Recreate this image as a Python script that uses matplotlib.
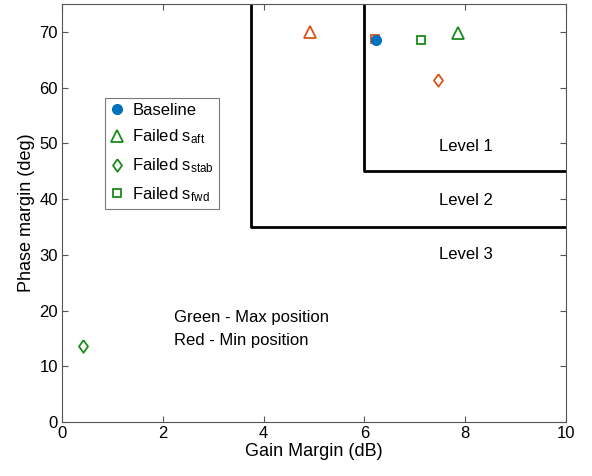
import matplotlib.pyplot as plt
from matplotlib.lines import Line2D

plt.rcParams.update({
    "font.family": ["Liberation Sans", "DejaVu Sans"],
    "font.size": 12,
    "mathtext.fontset": "custom",
    "mathtext.rm": "Liberation Sans",
    "mathtext.it": "Liberation Sans",
})

BLUE = "#0072BD"
RED = "#D95319"
GREEN = "#1A8C1A"

# stability margins (gain dB, phase deg)
baseline = (6.23, 68.5)
red_aft = (4.92, 70.0)
red_stab = (7.46, 61.3)
red_fwd = (6.21, 68.8)
green_aft = (7.86, 69.8)
green_stab = (0.42, 13.6)
green_fwd = (7.12, 68.6)

# requirement boundaries
level1_gm, level1_pm = 6.0, 45.0
level2_gm, level2_pm = 3.75, 35.0
level_labels = ["Level 1", "Level 2", "Level 3"]
level_label_pm = [49.4, 39.8, 30.0]

# wider diamond than matplotlib's "d"
DIAMOND = [(0, 1), (0.72, 0), (0, -1), (-0.72, 0), (0, 1)]

fig = plt.figure(figsize=(5.92, 4.76), dpi=100)
ax = fig.add_axes([0.1047, 0.1134, 0.8514, 0.878])

ax.plot([level1_gm, level1_gm, 10], [75, level1_pm, level1_pm], color="black", lw=2)
ax.plot([level2_gm, level2_gm, 10], [75, level2_pm, level2_pm], color="black", lw=2)

ms = 7
mew = 1.3
ax.plot(*red_fwd, "s", mfc="none", mec=RED, mew=mew, ms=ms - 1)
ax.plot(*baseline, "o", color=BLUE, ms=ms)
ax.plot(*red_aft, "^", mfc="none", mec=RED, mew=mew, ms=ms + 1)
ax.plot(*red_stab, marker=DIAMOND, ls="none", mfc="none", mec=RED, mew=mew, ms=ms + 2)
ax.plot(*green_aft, "^", mfc="none", mec=GREEN, mew=mew, ms=ms + 1)
ax.plot(*green_stab, marker=DIAMOND, ls="none", mfc="none", mec=GREEN, mew=mew, ms=ms + 2)
ax.plot(*green_fwd, "s", mfc="none", mec=GREEN, mew=mew, ms=ms - 1)

for lbl, pm in zip(level_labels, level_label_pm):
    ax.text(8.02, pm, lbl, ha="center", va="center", fontsize=12)

ax.text(2.22, 18.7, "Green - Max position", ha="left", va="center", fontsize=12)
ax.text(2.22, 14.7, "Red - Min position", ha="left", va="center", fontsize=12)

handles = [
    Line2D([], [], ls="none", marker="o", color=BLUE, ms=ms),
    Line2D([], [], ls="none", marker="^", mfc="none", mec=GREEN, mew=mew, ms=ms + 1),
    Line2D([], [], ls="none", marker=DIAMOND, mfc="none", mec=GREEN, mew=mew, ms=ms + 2),
    Line2D([], [], ls="none", marker="s", mfc="none", mec=GREEN, mew=mew, ms=ms - 1),
]
labels = ["Baseline", r"Failed s$_{\mathrm{aft}}$", r"Failed s$_{\mathrm{stab}}$",
          r"Failed s$_{\mathrm{fwd}}$"]
leg = ax.legend(handles, labels, loc="upper left", bbox_to_anchor=(0.085, 0.776),
                borderaxespad=0, fontsize=12, frameon=True, fancybox=False,
                edgecolor="#7a7a7a", framealpha=1, handlelength=0.9,
                handletextpad=0.45, labelspacing=0.6, borderpad=0.3)
leg.get_frame().set_linewidth(0.8)

ax.set_xlim(0, 10)
ax.set_ylim(0, 75)
ax.set_xticks(range(0, 11, 2))
ax.set_yticks(range(0, 71, 10))
ax.tick_params(direction="in", top=True, right=True, length=4, color="#555555",
               labelsize=12, pad=3)
for sp in ax.spines.values():
    sp.set_color("#555555")
    sp.set_linewidth(0.8)

ax.set_xlabel("Gain Margin (dB)", fontsize=13, labelpad=1)
ax.set_ylabel("Phase margin (deg)", fontsize=13, labelpad=3)

fig.savefig("out.png", dpi=100)
